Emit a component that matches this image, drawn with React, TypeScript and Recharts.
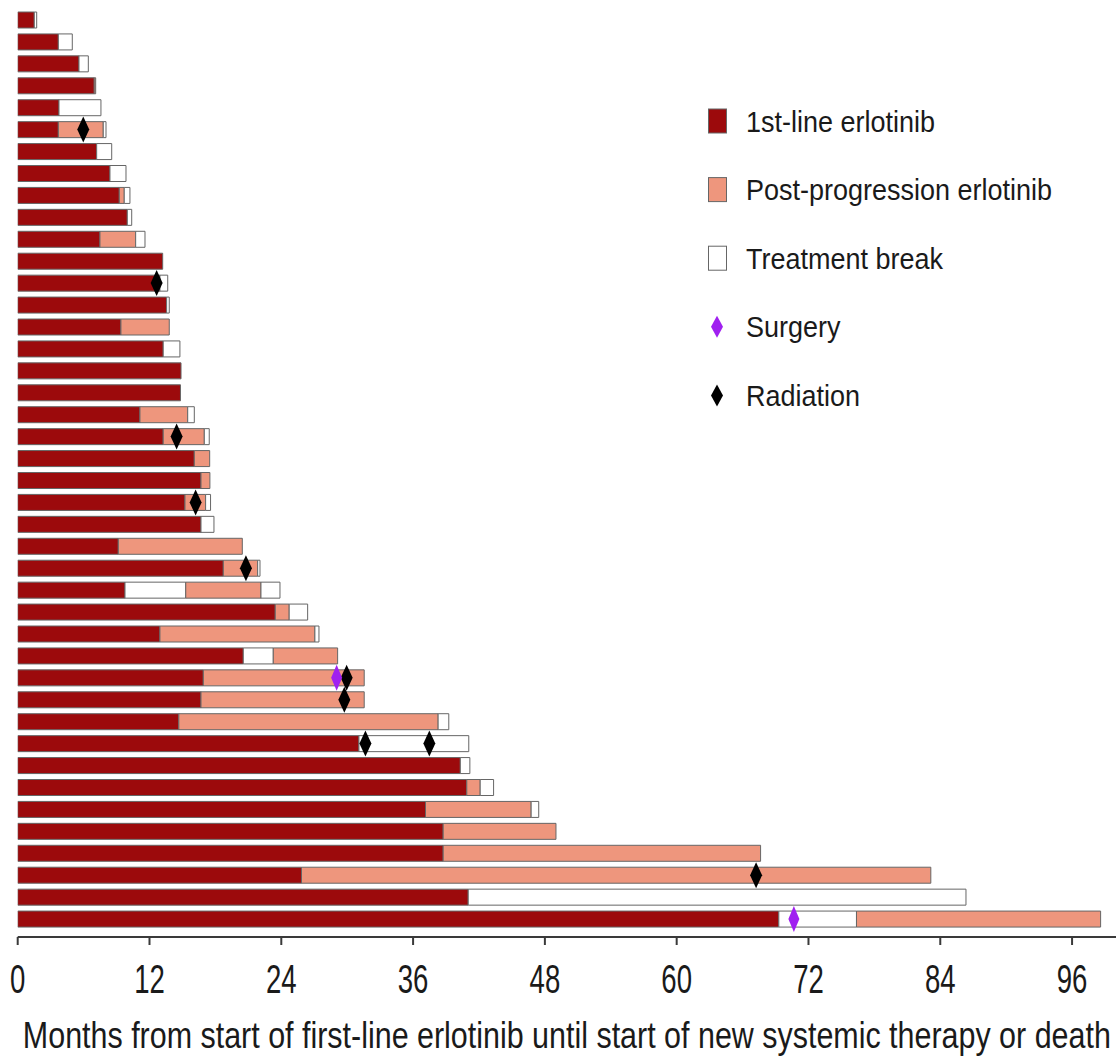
import React from 'react';
import { BarChart, Bar, XAxis, YAxis, Cell, ReferenceDot, Legend } from 'recharts';

type Phase = 'first' | 'post' | 'break';

// Month at which first-line erlotinib ended, one entry per patient (top to bottom)
const FIRST_LINE_END: number[] = [
  1.51, 3.7, 5.58, 6.97, 3.76, 3.7, 7.19, 8.4, 9.25, 9.98, 7.49, 13.2, 12.95, 13.56,
  9.4, 13.25, 14.87, 14.82, 11.13, 13.25, 16.08, 16.69, 15.23, 16.69, 9.16, 18.72,
  9.77, 23.45, 12.95, 20.54, 16.9, 16.69, 14.67, 31.07, 40.3, 40.89, 37.13, 38.74,
  38.74, 25.84, 41.02, 69.3,
];

// Phases following first-line therapy: [phase, month at which it ended]
const LATER_PHASES: Array<Array<[Phase, number]>> = [
  [['break', 1.73]],
  [['break', 4.97]],
  [['break', 6.43]],
  [['post', 7.1]],
  [['break', 7.58]],
  [['post', 7.79], ['break', 8.04]],
  [['break', 8.56]],
  [['break', 9.86]],
  [['post', 9.7], ['break', 10.22]],
  [['break', 10.38]],
  [['post', 10.74], ['break', 11.59]],
  [],
  [['break', 13.66]],
  [['break', 13.8]],
  [['post', 13.8]],
  [['break', 14.77]],
  [],
  [],
  [['post', 15.48], ['break', 16.08]],
  [['post', 16.99], ['break', 17.44]],
  [['post', 17.48]],
  [['post', 17.5]],
  [['post', 17.11], ['break', 17.56]],
  [['break', 17.87]],
  [['post', 20.45]],
  [['post', 21.85], ['break', 22.06]],
  [['break', 15.3], ['post', 22.15], ['break', 23.88]],
  [['post', 24.72], ['break', 26.4]],
  [['post', 27.06], ['break', 27.43]],
  [['break', 23.27], ['post', 29.13]],
  [['post', 31.55]],
  [['post', 31.55]],
  [['post', 38.28], ['break', 39.25]],
  [['break', 41.07]],
  [['break', 41.17]],
  [['post', 42.11], ['break', 43.33]],
  [['post', 46.75], ['break', 47.44]],
  [['post', 49.01]],
  [['post', 67.64]],
  [['post', 83.14]],
  [['break', 86.34]],
  [['break', 76.37], ['post', 98.6]],
];

// [patient row, month]
const RADIATION: Array<[number, number]> = [
  [6, 5.97], [13, 12.65], [20, 14.47], [23, 16.2], [26, 20.78], [31, 29.95],
  [32, 29.74], [34, 31.66], [34, 37.48], [40, 67.23],
];
const SURGERY: Array<[number, number]> = [
  [31, 29.04], [42, 70.67],
];

const MONTH_TICKS = [0, 12, 24, 36, 48, 60, 72, 84, 96];
const X_TITLE = 'Months from start of first-line erlotinib until start of new systemic therapy or death';

const LEGEND_ITEMS: Array<{ label: string; kind: Phase | 'surgery' | 'radiation' }> = [
  { label: '1st-line erlotinib', kind: 'first' },
  { label: 'Post-progression erlotinib', kind: 'post' },
  { label: 'Treatment break', kind: 'break' },
  { label: 'Surgery', kind: 'surgery' },
  { label: 'Radiation', kind: 'radiation' },
];

const PHASE_COLOR: Record<Phase, string> = {
  first: '#9c0a0c',
  post: '#ee967d',
  break: '#ffffff',
};
const SURGERY_COLOR = '#a020f0';
const RADIATION_COLOR = '#000000';
const OUTLINE = '#666666';
const FONT = "'Liberation Sans', Arial, Helvetica, sans-serif";
const SEGMENT_KEYS = ['s0', 's1', 's2', 's3'];

type Row = { id: string; kinds: (Phase | null)[]; [k: string]: any };

const rows: Row[] = FIRST_LINE_END.map((firstEnd, i) => {
  const phases: Array<[Phase, number]> = [['first', firstEnd], ...LATER_PHASES[i]];
  const row: Row = { id: String(i + 1), kinds: [] };
  let prev = 0;
  SEGMENT_KEYS.forEach((key, k) => {
    const ph = phases[k];
    if (ph) {
      row[key] = +(ph[1] - prev).toFixed(3);
      row.kinds.push(ph[0]);
      prev = ph[1];
    } else {
      row[key] = 0;
      row.kinds.push(null);
    }
  });
  return row;
});

const Diamond = ({ cx, cy, fill, w = 12, h = 26 }: any) => {
  if (cx == null || cy == null) return null;
  return (
    <path
      d={`M${cx},${cy - h / 2} L${cx + w / 2},${cy} L${cx},${cy + h / 2} L${cx - w / 2},${cy} Z`}
      fill={fill}
    />
  );
};

const MonthTick = ({ x, y, payload }: any) => (
  <text
    transform={`translate(${x},${y + 46}) scale(0.69,1)`}
    textAnchor="middle"
    fontSize={40}
    fontFamily={FONT}
    fill="#1a1a1a"
  >
    {payload.value}
  </text>
);

const AxisTitle = ({ viewBox }: any) => {
  if (!viewBox) return null;
  return (
    <text
      x={viewBox.x + viewBox.width / 2}
      y={viewBox.y + 111}
      textAnchor="middle"
      fontSize={37}
      fontFamily={FONT}
      fill="#1a1a1a"
      textLength={1088}
      lengthAdjust="spacingAndGlyphs"
    >
      {X_TITLE}
    </text>
  );
};

const LegendContent = () => (
  <svg width={420} height={340}>
    {LEGEND_ITEMS.map((item, i) => {
      const cy = 26 + i * 68.6;
      let marker;
      if (item.kind === 'surgery' || item.kind === 'radiation') {
        marker = (
          <Diamond
            cx={27}
            cy={cy}
            w={12}
            h={22}
            fill={item.kind === 'surgery' ? SURGERY_COLOR : RADIATION_COLOR}
          />
        );
      } else {
        marker = (
          <rect x={18.5} y={cy - 12} width={18} height={24} fill={PHASE_COLOR[item.kind]} stroke={OUTLINE} strokeWidth={1} />
        );
      }
      return (
        <g key={item.label}>
          {marker}
          <text
            transform={`translate(56,${cy + 10.5}) scale(0.9,1)`}
            fontSize={30}
            fontFamily={FONT}
            fill="#1a1a1a"
          >
            {item.label}
          </text>
        </g>
      );
    })}
  </svg>
);

export default function App() {
  return (
    <div style={{ position: 'absolute', left: 0, top: 0, background: '#fff' }}>
      <BarChart
        width={1116}
        height={1057}
        data={rows}
        layout="vertical"
        margin={{ top: 9, right: 0, bottom: 0, left: 17.7 }}
        barSize={16}
      >
        <XAxis
          type="number"
          domain={[0, 100]}
          ticks={MONTH_TICKS}
          allowDataOverflow
          height={120}
          tickSize={8}
          tickMargin={2}
          stroke="#3a3a3a"
          strokeWidth={2}
          tick={<MonthTick />}
          label={<AxisTitle />}
        />
        <YAxis type="category" dataKey="id" hide padding={{ top: 0, bottom: 7 }} />
        {SEGMENT_KEYS.map((key, k) => (
          <Bar key={key} dataKey={key} stackId="swim" isAnimationActive={false}>
            {rows.map((r) => {
              const kind = r.kinds[k];
              return (
                <Cell
                  key={r.id}
                  fill={kind ? PHASE_COLOR[kind] : 'none'}
                  stroke={kind ? OUTLINE : 'none'}
                  strokeWidth={1}
                />
              );
            })}
          </Bar>
        ))}
        {RADIATION.map(([row, month], i) => (
          <ReferenceDot
            key={`rad-${i}`}
            x={month}
            y={String(row)}
            r={6}
            shape={(p: any) => <Diamond cx={p.cx} cy={p.cy} fill={RADIATION_COLOR} />}
          />
        ))}
        {SURGERY.map(([row, month], i) => (
          <ReferenceDot
            key={`surg-${i}`}
            x={month}
            y={String(row)}
            r={6}
            shape={(p: any) => <Diamond cx={p.cx} cy={p.cy} w={11} fill={SURGERY_COLOR} />}
          />
        ))}
        <Legend
          layout="horizontal"
          verticalAlign="middle"
          align="center"
          content={<LegendContent />}
          wrapperStyle={{ left: 690, top: 95, width: 420, height: 340 }}
        />
      </BarChart>
    </div>
  );
}
